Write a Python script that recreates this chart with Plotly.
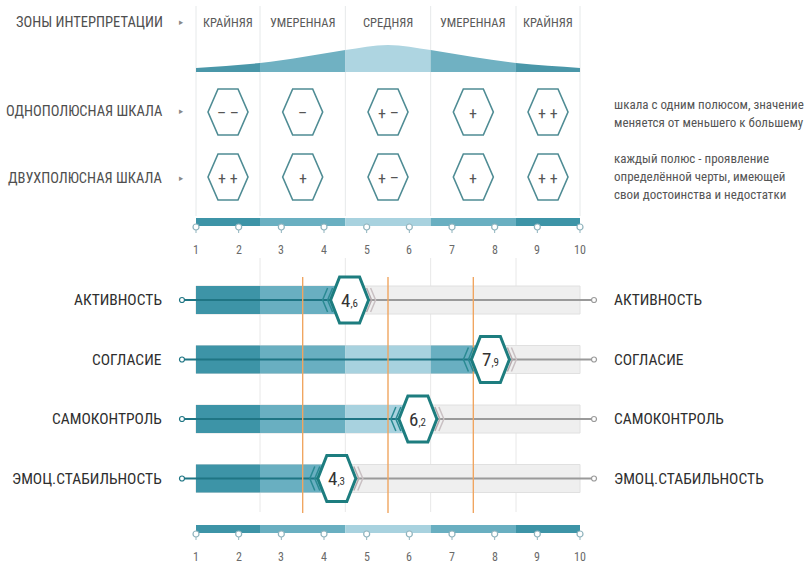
import plotly.graph_objects as go

# ---------------- data ----------------
ZONE_NAMES = ["КРАЙНЯЯ", "УМЕРЕННАЯ", "СРЕДНЯЯ", "УМЕРЕННАЯ", "КРАЙНЯЯ"]
ZONE_EDGES = [1, 2.5, 4.5, 6.5, 8.5, 10]
UNI_SIGNS = ["– –", "–", "+ –", "+", "+ +"]
BI_SIGNS = ["+ +", "+", "+ –", "+", "+ +"]
TRAITS = ["АКТИВНОСТЬ", "СОГЛАСИЕ", "САМОКОНТРОЛЬ", "ЭМОЦ.СТАБИЛЬНОСТЬ"]
SCORES = [4.6, 7.9, 6.2, 4.3]
THRESHOLDS = [3.5, 5.5, 7.5]
TICKS = [1, 2, 3, 4, 5, 6, 7, 8, 9, 10]
# bell (zones illustration) heights read at points along the scale
BELL_X = [1, 2.5, 3.5, 4.5, 5.5, 6.5, 7.5, 8.5, 10]
BELL_H = [4, 9, 15, 22, 27, 22, 15, 9, 4]
HEADERS = ["ЗОНЫ ИНТЕРПРЕТАЦИИ", "ОДНОПОЛЮСНАЯ ШКАЛА", "ДВУХПОЛЮСНАЯ ШКАЛА"]
UNI_NOTE = ["шкала с одним полюсом, значение", "меняется от меньшего к большему"]
BI_NOTE = ["каждый полюс - проявление", "определённой черты, имеющей", "свои достоинства и недостатки"]

# ---------------- styling / geometry ----------------
W, H = 811, 566
UNIT = 384 / 9.0
X0PX = 196
FONT = "Liberation Sans Narrow, Arial Narrow, Roboto Condensed, DejaVu Sans Condensed, sans-serif"
ZONE_COLORS = ["#3d94a7", "#69afc1", "#a8d2df", "#69afc1", "#3d94a7"]
BELL_COLORS = ["#4a97a9", "#70b1c2", "#aed5e1", "#70b1c2", "#4a97a9"]
TEAL = "#1f7584"
HEX_TOP = "#4f8c94"
HEX_VAL = "#1d7d7f"
GREY_LINE = "#9a9a9a"


def px2x(px):
    return 1 + (px - X0PX) / UNIT


def dxu(px):
    return px / UNIT


fig = go.Figure()
shapes = []
ann = []


def hex_path(cx, cy, hw, hh, tw):
    pts = [(cx - dxu(hw), cy), (cx - dxu(tw), cy - hh), (cx + dxu(tw), cy - hh),
           (cx + dxu(hw), cy), (cx + dxu(tw), cy + hh), (cx - dxu(tw), cy + hh)]
    return "M " + " L ".join(f"{x},{y}" for x, y in pts) + " Z"


def text(x, y, s, size, color="#555", anchor="center", family=FONT):
    ann.append(dict(x=x, y=y, xref="x", yref="y", text=s, showarrow=False,
                    xanchor=anchor, yanchor="middle",
                    font=dict(family=family, size=size, color=color)))


# ---------- top section: grid lines ----------
for e in ZONE_EDGES:
    shapes.append(dict(type="line", xref="x", yref="y", x0=e, x1=e, y0=6, y1=216,
                       line=dict(color="#e6e9ea", width=1), layer="below"))

# ---------- bell curve per zone ----------
BASE = 72.0
ys = [BASE - h for h in BELL_H]
n = len(BELL_X)
slopes = []
for i in range(n):
    if i == 0:
        m = (ys[1] - ys[0]) / (BELL_X[1] - BELL_X[0])
    elif i == n - 1:
        m = (ys[-1] - ys[-2]) / (BELL_X[-1] - BELL_X[-2])
    else:
        m = (ys[i + 1] - ys[i - 1]) / (BELL_X[i + 1] - BELL_X[i - 1])
    slopes.append(m)

for k in range(5):
    a, b = ZONE_EDGES[k], ZONE_EDGES[k + 1]
    idx = [i for i, x in enumerate(BELL_X) if a <= x <= b]
    p = f"M {a},{BASE} L {a},{ys[idx[0]]}"
    for j in range(len(idx) - 1):
        i0, i1 = idx[j], idx[j + 1]
        x0, x1 = BELL_X[i0], BELL_X[i1]
        d = (x1 - x0) / 3
        p += (f" C {x0 + d},{ys[i0] + slopes[i0] * d} {x1 - d},{ys[i1] - slopes[i1] * d}"
              f" {x1},{ys[i1]}")
    p += f" L {b},{BASE} Z"
    shapes.append(dict(type="path", xref="x", yref="y", path=p,
                       fillcolor=BELL_COLORS[k], line=dict(width=0), layer="below"))
    cx = (a + b) / 2
    text(cx, 22, ZONE_NAMES[k], 12.5, "#5a5a5a")
    shapes.append(dict(type="path", xref="x", yref="y", path=hex_path(cx, 112, 20, 23, 10),
                       fillcolor="white", line=dict(color=HEX_TOP, width=1.6), layer="above"))
    text(cx, 113, UNI_SIGNS[k], 16, "#555")
    shapes.append(dict(type="path", xref="x", yref="y", path=hex_path(cx, 177, 20, 23, 10),
                       fillcolor="white", line=dict(color=HEX_TOP, width=1.6), layer="above"))
    text(cx, 178, BI_SIGNS[k], 16, "#555")


# ---------- scale bars with ticks ----------
def scale_bar(ytop, ybot, ylab):
    for k in range(5):
        shapes.append(dict(type="rect", xref="x", yref="y", x0=ZONE_EDGES[k], x1=ZONE_EDGES[k + 1],
                           y0=ytop, y1=ybot, fillcolor=ZONE_COLORS[k], line=dict(width=0),
                           layer="below"))
    for t in TICKS:
        shapes.append(dict(type="line", xref="x", yref="y", x0=t, x1=t, y0=ybot + 1, y1=ybot + 7,
                           line=dict(color="#8fb3bd", width=1), layer="below"))
        text(t, ylab, str(t), 12, "#6a6a6a")
    fig.add_trace(go.Scatter(x=TICKS, y=[ybot + 1] * len(TICKS), mode="markers",
                             marker=dict(size=6, color="white", line=dict(color="#8fb3bd", width=1.2)),
                             hoverinfo="skip", showlegend=False))


scale_bar(218, 226, 250)
scale_bar(525, 533, 557)

# ---------- headers ----------
for s, y in zip(HEADERS, [22, 111, 178]):
    text(px2x(165), y, s, 14.5, "#4f4f4f", anchor="right")
    text(px2x(181), y, "▸", 9, "#888")

for i, s in enumerate(UNI_NOTE):
    text(px2x(612), 104 + i * 18, s, 13, "#555", anchor="left")
for i, s in enumerate(BI_NOTE):
    text(px2x(612), 158 + i * 18, s, 13, "#555", anchor="left")

# ---------- bar section ----------
ROW_Y = [300 + i * 59.5 for i in range(len(TRAITS))]

for e in ZONE_EDGES[1:-1]:
    shapes.append(dict(type="line", xref="x", yref="y", x0=e, x1=e, y0=258, y1=512,
                       line=dict(color="#e8e8e8", width=1), layer="below"))

for name, sc, ry in zip(TRAITS, SCORES, ROW_Y):
    fig.add_trace(go.Bar(y=[ry], x=[ZONE_EDGES[-1] - ZONE_EDGES[0]], base=[ZONE_EDGES[0]],
                         orientation="h", width=28,
                         marker=dict(color="#efefef", line=dict(color="#e0e0e0", width=1)),
                         hoverinfo="skip", showlegend=False))
    for k in range(5):
        a, b = ZONE_EDGES[k], min(ZONE_EDGES[k + 1], sc)
        if b > a:
            fig.add_trace(go.Bar(y=[ry], x=[b - a], base=[a], orientation="h", width=28,
                                 marker=dict(color=ZONE_COLORS[k], line=dict(width=0)),
                                 hoverinfo="skip", showlegend=False))
    left_end, right_end = px2x(182), px2x(594)
    fig.add_trace(go.Scatter(x=[left_end, sc], y=[ry, ry], mode="lines",
                             line=dict(color=TEAL, width=2), hoverinfo="skip", showlegend=False))
    fig.add_trace(go.Scatter(x=[sc, right_end], y=[ry, ry], mode="lines",
                             line=dict(color=GREY_LINE, width=2), hoverinfo="skip", showlegend=False))
    fig.add_trace(go.Scatter(x=[left_end], y=[ry], mode="markers",
                             marker=dict(size=5, color="white", line=dict(color=TEAL, width=1.2)),
                             hoverinfo="skip", showlegend=False))
    fig.add_trace(go.Scatter(x=[right_end], y=[ry], mode="markers",
                             marker=dict(size=5, color="white", line=dict(color=GREY_LINE, width=1.2)),
                             hoverinfo="skip", showlegend=False))
    text(px2x(164), ry, name, 15.5, "#2e2e2e", anchor="right")
    text(px2x(612), ry, name, 15.5, "#2e2e2e", anchor="left")

# orange thresholds
for t in THRESHOLDS:
    fig.add_trace(go.Scatter(x=[t, t], y=[277, 513], mode="lines",
                             line=dict(color="#f0a560", width=1.4), hoverinfo="skip",
                             showlegend=False))

# value hexagons with chevrons
for sc, ry in zip(SCORES, ROW_Y):
    hl = sc - dxu(19)
    hr = sc + dxu(19)
    for off, col in [(8, "#2a8a93"), (3, "#2a8a93")]:
        tip = hl - dxu(off)
        shapes.append(dict(type="path", xref="x", yref="y",
                           path=f"M {tip + dxu(5)},{ry - 12} L {tip},{ry} L {tip + dxu(5)},{ry + 12}",
                           line=dict(color=col, width=1.5), layer="above"))
    for off, col in [(3, "#b5a9ad"), (7, "#c9c0c3")]:
        tip = hr + dxu(off)
        shapes.append(dict(type="path", xref="x", yref="y",
                           path=f"M {tip - dxu(5)},{ry - 12} L {tip},{ry} L {tip - dxu(5)},{ry + 12}",
                           line=dict(color=col, width=1.5), layer="above"))
    shapes.append(dict(type="path", xref="x", yref="y", path=hex_path(sc, ry, 19, 23, 10),
                       fillcolor="white", line=dict(color=HEX_VAL, width=3), layer="above"))
    whole, frac = f"{sc:.1f}".split(".")
    text(sc, ry, f"{whole}<span style='font-size:11px'>,{frac}</span>", 19, "#333")

fig.update_layout(
    width=W, height=H, margin=dict(l=0, r=0, t=0, b=0),
    paper_bgcolor="white", plot_bgcolor="white", barmode="overlay",
    xaxis=dict(range=[px2x(0), px2x(W)], visible=False, fixedrange=True),
    yaxis=dict(range=[H, 0], visible=False, fixedrange=True),
    shapes=shapes, annotations=ann, showlegend=False,
)
fig.write_html("out.html", config={"displayModeBar": False},
               post_script="document.body.style.margin='0';document.body.style.overflow='hidden';")
